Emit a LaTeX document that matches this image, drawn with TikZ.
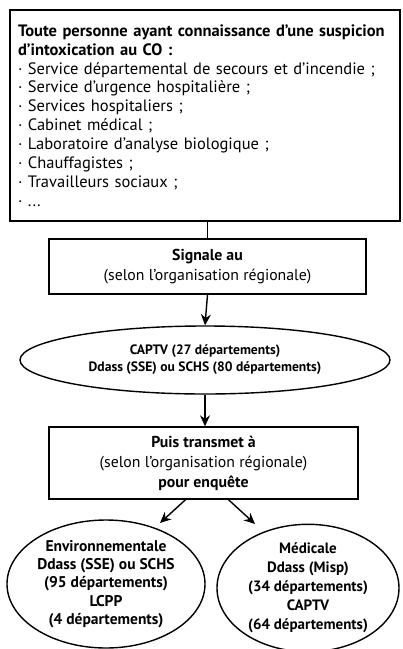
\documentclass[tikz,border=0pt]{standalone}
\usepackage{fontspec}
\setmainfont{PT Sans}
\usetikzlibrary{shapes.geometric,arrows.meta}
\begin{document}
\begin{tikzpicture}[x=1pt,y=-1pt,
  every node/.style={inner sep=0pt},
  box/.style={draw, line width=1.4pt, rectangle, align=center},
  ell/.style={draw, line width=1.4pt, ellipse, align=center},
  arr/.style={line width=1.4pt, -{Stealth[length=11pt,width=10pt]}},
  con/.style={line width=1.4pt}]
\useasboundingbox (0,0) rectangle (403,649);
\node[box, minimum width=390pt, minimum height=211pt, text width=374pt, align=left,
      font=\fontsize{16.5}{18.9}\selectfont] (top) at (205,115.5)
{\textbf{Toute personne ayant connaissance d'une suspicion}\\
 \textbf{d'intoxication au CO :}\\
 · Service départemental de secours et d'incendie ;\\
 · Service d'urgence hospitalière ;\\
 · Services hospitaliers ;\\
 · Cabinet médical ;\\
 · Laboratoire d'analyse biologique ;\\
 · Chauffagistes ;\\
 · Travailleurs sociaux ;\\
 · ...};
\node[box, minimum width=317pt, minimum height=55pt, font=\fontsize{15.8}{20}\selectfont] (sig) at (207.5,266.5)
{\textbf{Signale au}\\(selon l'organisation régionale)};
\node[ell, minimum width=370pt, minimum height=68pt, font=\fontsize{13.6}{17}\selectfont\bfseries] (cap) at (205,360)
{CAPTV (27 départements)\\Ddass (SSE) ou SCHS (80 départements)};
\node[box, minimum width=309pt, minimum height=72pt, font=\fontsize{15.8}{20}\selectfont] (puis) at (203.5,463)
{\textbf{Puis transmet à}\\(selon l'organisation régionale)\\\textbf{pour enquête}};
\node[ell, minimum width=198pt, minimum height=128pt, font=\fontsize{15.5}{18.4}\selectfont\bfseries] (env) at (106,584)
{Environnementale\\Ddass (SSE) ou SCHS\\(95 départements)\\LCPP\\(4 départements)};
\node[ell, minimum width=182pt, minimum height=120pt, font=\fontsize{15}{19}\selectfont\bfseries] (med) at (308,588)
{Médicale\\Ddass (Misp)\\(34 départements)\\CAPTV\\(64 départements)};
\coordinate (lt) at (160,523);
\coordinate (rt) at (255,524);
\draw[con] (top.south -| sig.north) -- (sig.north);
\draw[arr] (sig.south) -- (cap.north);
\draw[arr] (cap.south) -- (cap.south |- puis.north);
\draw[arr] ([xshift=-18pt]puis.south) -- (lt);
\draw[arr] ([xshift=25pt]puis.south) -- (rt);
\end{tikzpicture}
\end{document}
